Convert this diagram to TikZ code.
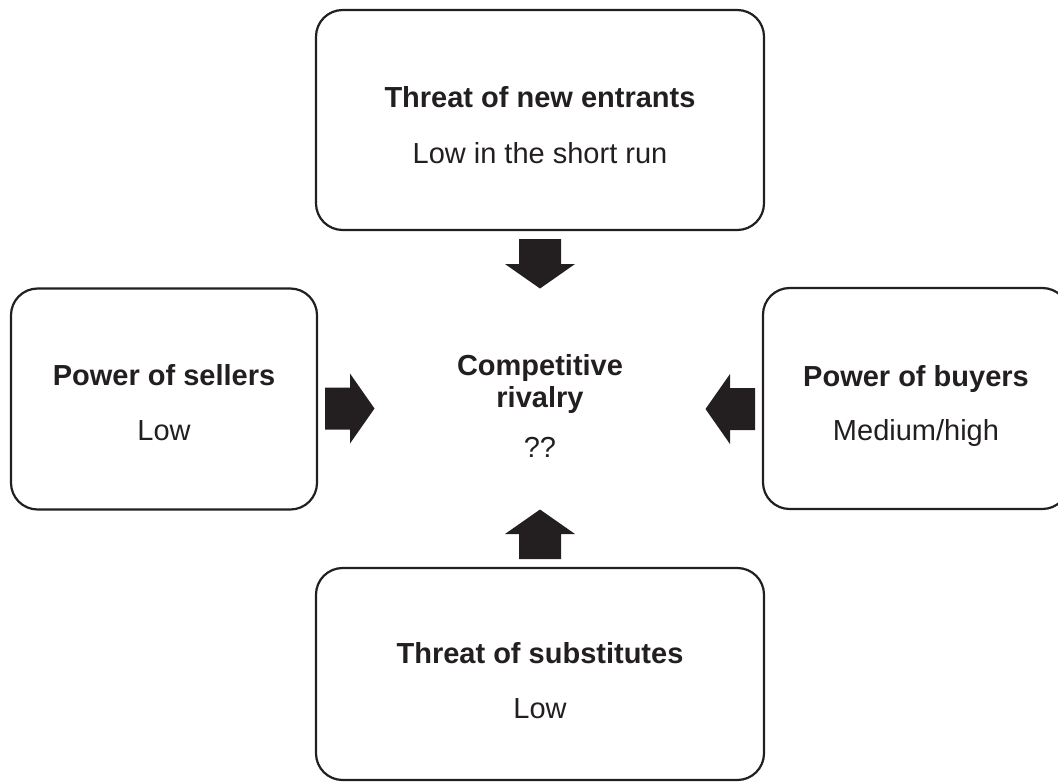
\documentclass[tikz,border=0pt]{standalone}
\usepackage{fontspec}
\setmainfont{Liberation Sans}
\definecolor{ink}{RGB}{35,31,32}
\begin{document}
\begin{tikzpicture}[x=0.75pt,y=-0.75pt,
  box/.style={draw=ink, line width=1.65pt, rounded corners=20pt, inner sep=0pt},
  head/.style={text=ink, font=\fontsize{21.75pt}{26pt}\selectfont\bfseries, anchor=base, inner sep=0pt},
  val/.style={text=ink, font=\fontsize{21.75pt}{26pt}\selectfont, anchor=base, inner sep=0pt},
  blockarrow/.pic={\fill[ink] (-25,-21) -- (0,-21) -- (0,-35) -- (24.5,0) -- (0,35) -- (0,21) -- (-25,21) -- cycle;}]
\useasboundingbox (0,0) rectangle (1058,783);
\clip (0,0) rectangle (1058,783);
% boxes
\node[box, minimum width=336pt, minimum height=165pt] (ent) at (540,120) {};
\node[box, minimum width=229.5pt, minimum height=165.75pt] (sel) at (164,399) {};
\node[box, minimum width=229.5pt, minimum height=165.75pt] (buy) at (916,398.5) {};
\node[box, minimum width=336pt, minimum height=159pt] (sub) at (540,674) {};
% texts
\node[head] (entT) at (540,107) {Threat of new entrants};
\node[val]  (entV) at (540,163) {Low in the short run};
\node[head] (selT) at (164,385) {Power of sellers};
\node[val]  (selV) at (164,440) {Low};
\node[head] (buyT) at (916,386) {Power of buyers};
\node[val]  (buyV) at (916,440) {Medium/high};
\node[head] (subT) at (540,663) {Threat of substitutes};
\node[val]  (subV) at (540,718) {Low};
\node[head] (riv1) at (540,375) {Competitive};
\node[head] (riv2) at (540,407) {rivalry};
\node[val]  (rivV) at (540,457) {??};
% arrows
\foreach \x/\y/\r in {540/264/-90, 350/408.5/0, 730/409/180, 540/534/90}
  \pic[rotate=\r] at (\x,\y) {blockarrow};
\end{tikzpicture}
\end{document}
